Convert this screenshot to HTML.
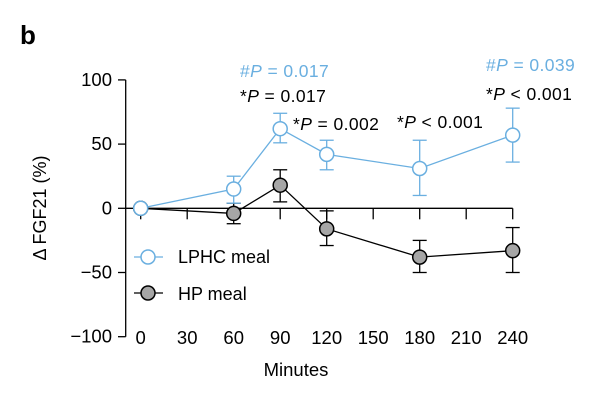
<!DOCTYPE html>
<html><head><meta charset="utf-8"><style>
body{margin:0;background:#fff;}
svg text{font-family:"Liberation Sans",sans-serif;}
</style></head><body>
<svg id="chart" width="608" height="402" viewBox="0 0 608 402" xmlns="http://www.w3.org/2000/svg">
<text x="20" y="44" font-size="26" font-weight="bold">b</text>
<g id="axes"></g>
<g id="series"></g>
<text x="296" y="376" font-size="18.5" text-anchor="middle">Minutes</text>
<text transform="translate(46,208) rotate(-90)" font-size="18" text-anchor="middle">Δ FGF21 (%)</text>
<g font-size="17.5" letter-spacing="0.4">
<text x="240" y="77" fill="#6aafe0">#<tspan font-style="italic">P</tspan> = 0.017</text>
<text x="240" y="102" fill="#000">*<tspan font-style="italic">P</tspan> = 0.017</text>
<text x="293" y="130" fill="#000">*<tspan font-style="italic">P</tspan> = 0.002</text>
<text x="397" y="128" fill="#000">*<tspan font-style="italic">P</tspan> &lt; 0.001</text>
<text x="486" y="71" fill="#6aafe0">#<tspan font-style="italic">P</tspan> = 0.039</text>
<text x="486" y="100" fill="#000">*<tspan font-style="italic">P</tspan> &lt; 0.001</text>
</g>
<g>
<line x1="134" y1="257" x2="163" y2="257" stroke="#6aafe0" stroke-width="1.3"/>
<circle cx="148" cy="257" r="7" fill="#fff" stroke="#6aafe0" stroke-width="1.5"/>
<text x="178" y="263" font-size="18">LPHC meal</text>
<line x1="134" y1="293" x2="163" y2="293" stroke="#000" stroke-width="1.3"/>
<circle cx="148" cy="293" r="7" fill="#a6a6a6" stroke="#000" stroke-width="1.5"/>
<text x="178" y="300" font-size="18">HP meal</text>
</g>
</svg>
<script>
const minutes=[0,60,90,120,180,240];
const lphc=[0,15,62,42,31,57];
const lphcLo=[0,4,51,30,10,36];
const lphcHi=[0,25,74,53,53,78];
const hp=[0,-4,18,-16,-38,-33];
const hpLo=[0,-12,5,-29,-50,-50];
const hpHi=[0,4,30,-2,-25,-15];
const xTicks=[0,30,60,90,120,150,180,210,240];
const yTicks=[100,50,0,-50,-100];
const yTickLabels=["100","50","0","\u221250","\u2212100"];

const NS="http://www.w3.org/2000/svg";
const X=v=>140.7+v*(512.7-140.7)/240;
const Y=v=>208.3-v*1.284;
function mk(tag,attrs,parent){const e=document.createElementNS(NS,tag);for(const k in attrs)e.setAttribute(k,attrs[k]);parent.appendChild(e);return e;}
const axes=document.getElementById('axes'),ser=document.getElementById('series');
let e=mk('line',{x1:125.7,y1:Y(100),x2:125.7,y2:Y(-100),stroke:'#000','stroke-width':1.3},axes);


e=mk('line',{x1:125.7,y1:Y(0),x2:X(240),y2:Y(0),stroke:'#000','stroke-width':1.3},axes);


yTicks.forEach((v,i)=>{
  mk('line',{x1:118,y1:Y(v),x2:125.7,y2:Y(v),stroke:'#000','stroke-width':1.3},axes);
  const t=mk('text',{x:112,y:Y(v)+6,'font-size':18.5,'text-anchor':'end'},axes);
  t.textContent=yTickLabels[i];
  
  
});
xTicks.forEach(v=>{
  mk('line',{x1:X(v),y1:Y(0),x2:X(v),y2:Y(0)+11,stroke:'#000','stroke-width':1.3},axes);
  const t=mk('text',{x:X(v),y:344,'font-size':18.5,'text-anchor':'middle'},axes);
  t.textContent=v;
  
  
});
function drawSeries(vals,lo,hi,stroke,fill,name){
  const g=mk('g',{},ser);
  
  
  minutes.forEach((m,i)=>{
    if(i===0)return;
    const x=X(m);
    mk('line',{x1:x,y1:Y(hi[i]),x2:x,y2:Y(lo[i]),stroke:stroke,'stroke-width':1.3},g);
    mk('line',{x1:x-7,y1:Y(hi[i]),x2:x+7,y2:Y(hi[i]),stroke:stroke,'stroke-width':1.3},g);
    mk('line',{x1:x-7,y1:Y(lo[i]),x2:x+7,y2:Y(lo[i]),stroke:stroke,'stroke-width':1.3},g);
  });
  const ln=mk('polyline',{points:minutes.map((m,i)=>X(m)+','+Y(vals[i])).join(' '),fill:'none',stroke:stroke,'stroke-width':1.3},g);
  
  
  minutes.forEach((m,i)=>{
    const c=mk('circle',{cx:X(m),cy:Y(vals[i]),r:7,fill:fill,stroke:stroke,'stroke-width':1.5},g);
    
    
  });
}
drawSeries(hp,hpLo,hpHi,'#000','#a6a6a6','hp');
drawSeries(lphc,lphcLo,lphcHi,'#6aafe0','#fff','lphc');
</script>
</body></html>
